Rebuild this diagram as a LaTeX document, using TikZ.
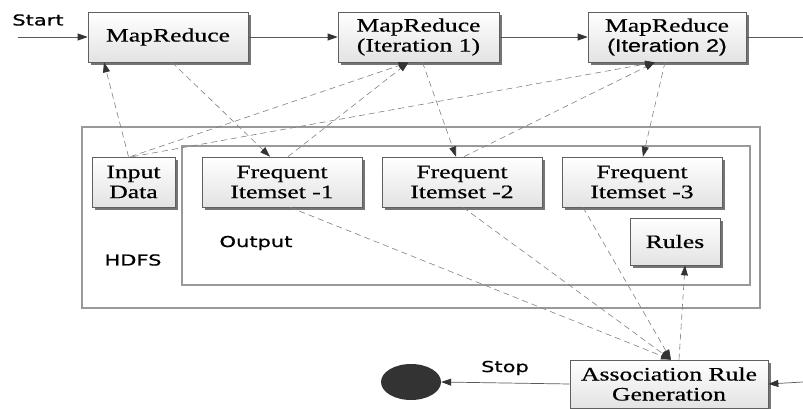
\documentclass[tikz,border=0pt]{standalone}
\usepackage{fontspec}
\usetikzlibrary{arrows.meta,shadows,shapes.geometric}
\newfontfamily\boxfont[FakeStretch=1.35,FakeBold=0.6]{Liberation Serif}
\newfontfamily\boxsans[FakeStretch=1.3,FakeBold=0.6]{Liberation Sans}
\newfontfamily\lblfont[FakeStretch=1.4,FakeBold=0.8]{DejaVu Sans}
\tikzset{
  procbox/.style={draw=gray!75!black, line width=0.7pt, top color=white, bottom color=gray!22,
    drop shadow={shadow xshift=3pt, shadow yshift=-3pt, fill=gray!80!black, opacity=0.9},
    align=center, inner sep=0pt, font=\boxfont\fontsize{19}{20}\selectfont},
  frame/.style={draw=gray!80, line width=1.1pt},
  lbl/.style={font=\lblfont\fontsize{15}{17}\selectfont, inner sep=0pt},
  flow/.style={draw=gray!70!black, line width=0.7pt,
    -{Triangle[length=10pt,width=7pt,color=gray!40!black,fill=gray!40!black]}},
  dflow/.style={draw=gray, line width=0.6pt, dash pattern=on 6pt off 4pt,
    -{Triangle[length=10pt,width=7pt,color=gray!40!black,fill=gray!40!black]}}
}
\begin{document}
\begin{tikzpicture}[x=1pt,y=-1pt]
\useasboundingbox (0,0) rectangle (803,409);
% frames
\draw[frame] (82,127) rectangle (760,308);
\draw[frame] (182,146) rectangle (750,285);
\node[lbl] (hdfs) at (133,260) {HDFS};
\node[lbl] (outl) at (256,243) {Output};
% top row
\node[procbox, minimum width=160pt, minimum height=50pt] (mr) at (168,37) {MapReduce};
\node[procbox, minimum width=161pt, minimum height=50pt] (mr1) at (418.5,37) {MapReduce\\(Iteration 1)};
\node[procbox, minimum width=158pt, minimum height=50pt] (mr2) at (667,37) {MapReduce\\{\boxsans\fontsize{18}{20}\selectfont(Iteration 2)}};
% HDFS row
\node[procbox, minimum width=83pt, minimum height=50pt] (inp) at (133.5,182) {Input\\Data};
\node[procbox, minimum width=160pt, minimum height=50pt] (fi1) at (282,182) {Frequent\\Itemset -1};
\node[procbox, minimum width=160pt, minimum height=50pt] (fi2) at (462,182) {Frequent\\Itemset -2};
\node[procbox, minimum width=160pt, minimum height=50pt] (fi3) at (642,182) {Frequent\\Itemset -3};
\node[procbox, minimum width=90pt, minimum height=47pt] (rules) at (675,241.5) {Rules};
% bottom
\node[procbox, minimum width=198pt, minimum height=48pt] (arg) at (669,384) {Association Rule\\Generation};
\node[ellipse, fill=gray!40!black, minimum width=60pt, minimum height=36pt, inner sep=0pt] (stopc) at (411,382) {};
\node[lbl] (start) at (38,20) {Start};
\node[lbl] (stop) at (505,368) {Stop};
\coordinate (cin) at (18,37);
\coordinate (cout) at (803,37);
\coordinate (cright) at (803,382);
% solid flow
\draw[flow] (cin) -- (mr.west);
\draw[flow] (mr.east) -- (mr1.west);
\draw[flow] (mr1.east) -- (mr2.west);
\draw[draw=gray!70!black, line width=0.7pt] (mr2.east) -- (cout);
\draw[flow] (cright) -- (arg.east);
\draw[flow] (arg.west) -- (stopc.east);
% dashed flows
\draw[dflow] ([xshift=-5pt]inp.north) -- ([xshift=-64pt]mr.south);
\draw[dflow] ([xshift=-3pt]inp.north) -- ([xshift=-10pt]mr1.south);
\draw[dflow] ([xshift=-1pt]inp.north) -- ([xshift=-12pt]mr2.south);
\draw[dflow] ([xshift=4pt]mr.south) -- ([xshift=-12pt]fi1.north);
\draw[dflow] ([xshift=6pt]fi1.north) -- ([xshift=-10pt]mr1.south);
\draw[dflow] ([xshift=4pt]mr1.south) -- ([xshift=-6pt]fi2.north);
\draw[dflow] ([xshift=2pt]fi2.north) -- ([xshift=-12pt]mr2.south);
\draw[dflow] ([xshift=-2pt]mr2.south) -- ([xshift=1pt]fi3.north);
\draw[dflow] ([xshift=8pt]fi1.south) -- ([xshift=2pt]arg.north);
\draw[dflow] ([xshift=1pt]fi2.south) -- ([xshift=2pt]arg.north);
\draw[dflow] ([xshift=-59pt]fi3.south) -- ([xshift=2pt]arg.north);
\draw[dflow] ([xshift=10pt]arg.north) -- ([xshift=10pt]rules.south);
\end{tikzpicture}
\end{document}
